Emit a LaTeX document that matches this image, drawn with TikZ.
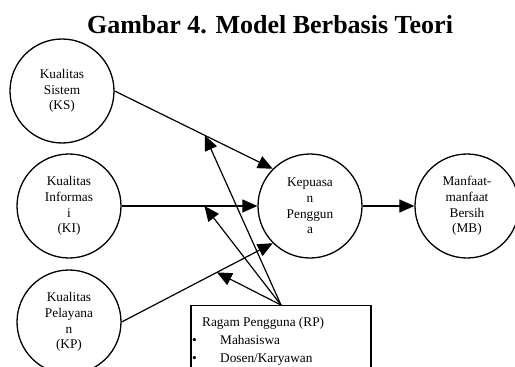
\documentclass[tikz,border=0pt]{standalone}
\usepackage{fontspec}
\setmainfont{Liberation Serif}
\usetikzlibrary{arrows.meta}

\begin{document}
\begin{tikzpicture}[x=1pt,y=-1pt,
    var/.style={draw,circle,line width=1.3pt,minimum size=104pt,inner sep=0pt,align=center,font=\fontsize{13.3}{15.7}\selectfont},
    link/.style={line width=1.2pt,-{Triangle[length=15pt,width=13pt]}},
    item/.style={anchor=base west,inner sep=0pt,font=\fontsize{13.3}{15.7}\selectfont}]
    \useasboundingbox (0,0) rectangle (515,367);
    \clip (0,0) rectangle (515,367);
    \node[anchor=base,inner sep=0pt,font=\fontsize{26}{30}\selectfont\bfseries] (title) at (270,33) {Gambar 4. Model Berbasis Teori};
    \node[var] (ks) at (62,91) {Kualitas\\Sistem\\(KS)};
    \node[var] (ki) at (69,206) {Kualitas\\Informas\\i\\(KI)};
    \node[var] (kp) at (69,322) {Kualitas\\Pelayana\\n\\(KP)};
    \node[var] (kep) at (310,206) {Kepuasa\\n\\Penggun\\a};
    \node[var] (mb) at (467,206) {Manfaat-\\manfaat\\Bersih\\(MB)};
    \node[draw,line width=1.2pt,minimum width=180pt,minimum height=90pt,anchor=north] (rp) at (281,305) {};
    \node[item] (rphead) at (202,326) {Ragam Pengguna (RP)};
    \node[item] (rp1) at (192,344) {\makebox[28pt][l]{\textbullet}Mahasiswa};
    \node[item] (rp2) at (192,362) {\makebox[28pt][l]{\textbullet}Dosen/Karyawan};
    \draw[link] (ks.east) -- (kep.north west) coordinate[pos=0.57] (m1);
    \draw[link] (ki.east) -- (kep.west) coordinate[pos=0.61] (m2);
    \draw[link] (kp.east) -- (kep.south west) coordinate[pos=0.63] (m3);
    \draw[link] (kep.east) -- (mb.west);
    \foreach \m in {m1,m2,m3}
        \draw[link] (rp.north) -- (\m);
\end{tikzpicture}
\end{document}
